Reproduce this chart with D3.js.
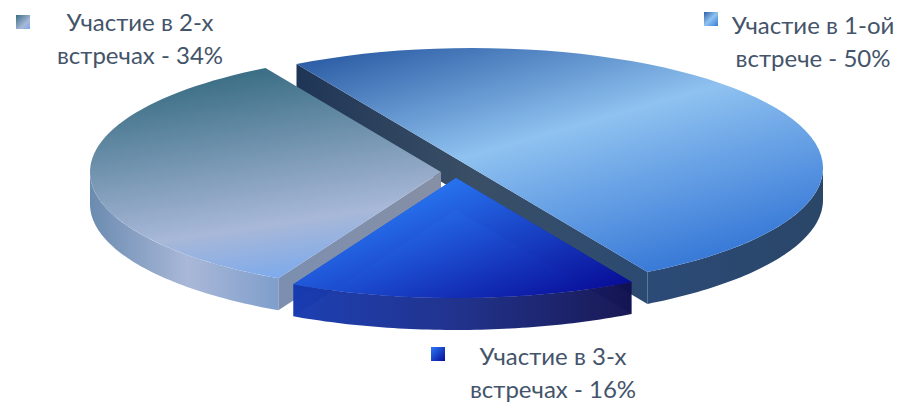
<!DOCTYPE html>
<html><head><meta charset="utf-8">
<style>html,body{margin:0;padding:0;background:#fff}svg{display:block}</style>
<script src="https://cdn.jsdelivr.net/npm/d3@7"></script></head>
<body><svg id="c" width="911" height="406"></svg>
<script>
const categories = ["Участие в 1-ой встрече","Участие в 3-х встречах","Участие в 2-х встречах"];
const values = [50,16,34];
const labelLine1 = ["Участие в 1-ой","Участие в 3-х","Участие в 2-х"];
const labelLine2 = ["встрече - 50%","встречах - 16%","встречах - 34%"];

const rx=351, ry=120, depth=32;
const centers=[[472,168],[456,178],[441,172]];
const labelPos=[[813,34,33],[553,365,33],[140,31,33]];
const markerPos=[[704,12],[431,347],[16,15]];

const svg=d3.select("#c");
const defs=svg.append("defs");
function grad(id,p,stops,units){
  const g=defs.append("linearGradient").attr("id",id);
  if(units!=="box") g.attr("gradientUnits","userSpaceOnUse");
  g.attr("x1",p[0]).attr("y1",p[1]).attr("x2",p[2]).attr("y2",p[3]);
  stops.forEach(s=>g.append("stop").attr("offset",s[0]).attr("stop-color",s[1]));
}
grad("top0",[296,64,376,347],[[0,"#2d5ea6"],[.46,"#8fc2f0"],[1,"#3a7bd8"]]);
grad("top2",[268,67,300,282],[[0,"#3a6e84"],[.72,"#a8b8d8"],[1,"#78a8ee"]]);
grad("top1",[456,178,512,329],[[0,"#2a78f5"],[1,"#080c98"]]);
grad("wall0",[648,0,823,0],[[0,"#2b4a76"],[1,"#2a4668"]]);
grad("cut0",[296,0,648,0],[[0,"#1f3555"],[.5,"#3a4f66"],[1,"#2b4a72"]]);
grad("wall2",[90,0,278,0],[[0,"#6b8bb0"],[.52,"#a9b8d8"],[1,"#7f9ecb"]]);
grad("cut2",[278,0,441,0],[[0,"#7c8fb0"],[1,"#868fa5"]]);
grad("wall1",[293,0,632,0],[[0,"#1438b0"],[.5,"#182a86"],[1,"#10104e"]]);
grad("cut1",[293,0,632,0],[[0,"#0a3ab0"],[1,"#00066e"]]);
grad("leg0",[0,0,1,1],[[0,"#2d5ea6"],[.5,"#8fc2f0"],[1,"#3a7bd8"]],"box");
grad("leg1",[0,0,1,1],[[0,"#2a78f5"],[1,"#080c98"]],"box");
grad("leg2",[0,0,1,1],[[0,"#3a6e84"],[.65,"#a8b8d8"],[1,"#78a8ee"]],"box");

const arcs=d3.pie().sort(null).startAngle(-Math.PI/6).endAngle(2*Math.PI-Math.PI/6)(values);
const line=d3.line();
const P=(i,a,dz=0)=>[centers[i][0]+rx*Math.sin(a),centers[i][1]-ry*Math.cos(a)+dz];
const sample=(a0,a1)=>d3.range(0,61).map(k=>a0+(a1-a0)*k/60);

function topPath(i,dz=0){const d=arcs[i];
  return line([[centers[i][0],centers[i][1]+dz],...sample(d.startAngle,d.endAngle).map(a=>P(i,a,dz))])+"Z";}
function wallPath(i,a0,a1){
  const f=sample(a0,a1);
  return line([...f.map(a=>P(i,a)),...f.slice().reverse().map(a=>P(i,a,depth))])+"Z";}
function cutPath(i,a){
  const c=centers[i],p=P(i,a);
  return line([c,p,[p[0],p[1]+depth],[c[0],c[1]+depth]])+"Z";}
const add=(dstr,fill,op=1)=>svg.append("path").attr("d",dstr).attr("fill",fill).attr("fill-opacity",op);

const a0=arcs[0];
add(wallPath(0,Math.PI/2,a0.endAngle),"url(#wall0)");
add(cutPath(0,a0.startAngle),"url(#cut0)");
add(cutPath(0,a0.endAngle),"url(#cut0)");
add(topPath(0),"url(#top0)");
const a2=arcs[2];
add(wallPath(2,a2.startAngle,3*Math.PI/2),"url(#wall2)");
add(cutPath(2,a2.startAngle),"url(#cut2)");
add(topPath(2),"url(#top2)");
const a1=arcs[1];
add(topPath(1),"url(#top1)");
add(cutPath(1,a1.startAngle),"url(#cut1)",.5);
add(cutPath(1,a1.endAngle),"url(#cut1)",.5);
add(wallPath(1,a1.startAngle,a1.endAngle),"url(#wall1)",.96);
add(topPath(1),"url(#top1)",.88);

values.forEach((v,i)=>{
  svg.append("rect").attr("x",markerPos[i][0]).attr("y",markerPos[i][1]).attr("width",14).attr("height",14).attr("fill",`url(#leg${i})`);
  const t=svg.append("text").attr("text-anchor","middle").attr("font-family","Lato, 'Open Sans', sans-serif").attr("font-size",24).attr("fill","#44546a");
  t.append("tspan").attr("x",labelPos[i][0]).attr("y",labelPos[i][1]).text(labelLine1[i]);
  t.append("tspan").attr("x",labelPos[i][0]).attr("y",labelPos[i][1]+labelPos[i][2]).text(labelLine2[i]);
});
</script></body></html>
